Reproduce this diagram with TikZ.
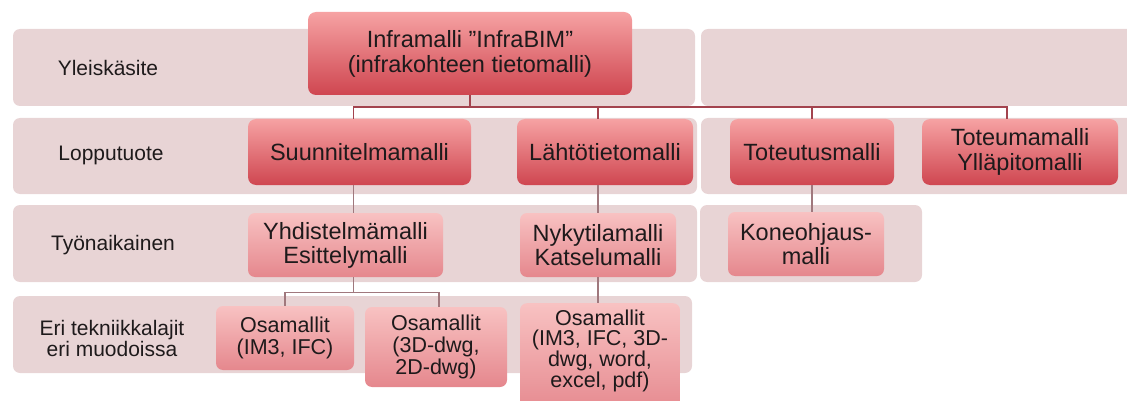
\documentclass[tikz,border=0pt]{standalone}
\usepackage{fontspec}
\setmainfont{Liberation Sans}
\usetikzlibrary{positioning}
\definecolor{bandpink}{HTML}{E8D4D5}
\definecolor{boxtop}{HTML}{F6A2A3}
\definecolor{boxbot}{HTML}{CF4650}
\definecolor{subtop}{HTML}{F8C2C2}
\definecolor{subbot}{HTML}{E5878D}
\definecolor{linkred}{HTML}{A3434E}
\definecolor{linkgray}{HTML}{A0787D}
\definecolor{txt}{HTML}{1E1A1B}
\tikzset{
  band/.style={fill=bandpink, rounded corners=7pt},
  lbl/.style={align=center, text=txt, font=\fontsize{21}{21}\selectfont},
  mainbox/.style={rounded corners=8pt, top color=boxtop, bottom color=boxbot, align=center, text=txt, inner sep=0pt, font=\fontsize{23.5}{25}\selectfont},
  subbox/.style={rounded corners=7pt, top color=subtop, bottom color=subbot, align=center, text=txt, inner sep=0pt, font=\fontsize{23.5}{24}\selectfont},
  partbox/.style={subbox, font=\fontsize{21.5}{22}\selectfont},
  link/.style={draw=linkred, line width=1.6pt},
  sublink/.style={draw=linkgray, line width=1.4pt},
}
\begin{document}
\begin{tikzpicture}[x=1pt, y=-1pt]
  \useasboundingbox (0,0) rectangle (1127,401);
  \clip (0,0) rectangle (1127,401);

  % level bands
  \fill[band] (13,29) rectangle (695,106);
  \fill[band] (701,29) rectangle (1140,106);
  \fill[band] (13,118) rectangle (697,194);
  \fill[band] (701,118) rectangle (1140,194);
  \fill[band] (13,205) rectangle (697,282);
  \fill[band] (700,205) rectangle (922,282);
  \fill[band] (13,296) rectangle (692,373);

  % level labels
  \node[lbl] (yleis) at (108,68) {Yleiskäsite};
  \node[lbl] (lopp) at (111,155) {Lopputuote};
  \node[lbl] (tyon) at (113,245) {Työnaikainen};
  \node[lbl] (eri) at (112,338) {Eri tekniikkalajit\\eri muodoissa};

  \node[mainbox, minimum width=324pt, minimum height=83pt] (infra) at (470,53.5) {Inframalli ”InfraBIM”\\(infrakohteen tietomalli)};

  \node[mainbox, minimum width=223pt, minimum height=66pt] (suun) at (359.5,152) {Suunnitelmamalli};
  \node[mainbox, minimum width=176pt, minimum height=66pt] (laht) at (605,152) {Lähtötietomalli};
  \node[mainbox, minimum width=164pt, minimum height=66pt] (tote) at (812,152) {Toteutusmalli};
  \node[mainbox, minimum width=196pt, minimum height=66pt] (totm) at (1020,152) {Toteumamalli\\Ylläpitomalli};

  \node[subbox, minimum width=195pt, minimum height=64pt] (yhd) at (345.5,245) {Yhdistelmämalli\\Esittelymalli};
  \node[subbox, minimum width=156pt, minimum height=64pt] (nyk) at (598,245) {Nykytilamalli\\Katselumalli};
  \node[subbox, minimum width=156pt, minimum height=64pt] (kone) at (806,244) {Koneohjaus-\\malli};

  \node[partbox, minimum width=138pt, minimum height=64pt] (osa1) at (285,338) {Osamallit\\(IM3, IFC)};
  \node[partbox, minimum width=142pt, minimum height=80pt] (osa2) at (436,347) {Osamallit\\(3D-dwg,\\2D-dwg)};
  \node[partbox, minimum width=160pt, anchor=north, inner ysep=7pt, text depth=22pt,
        font=\fontsize{21.5}{20}\selectfont] (osa3) at (600,303) {Osamallit\\(IM3, IFC, 3D-\\dwg, word,\\excel, pdf)};

  % connectors
  \draw[link] (infra.south) -- ++(0,12) coordinate (bus);
  \draw[link] (bus) -| ([xshift=-6pt]suun.north);
  \draw[link] (bus) -| ([xshift=-7pt]laht.north);
  \draw[link] (bus) -| (tote.north);
  \draw[link] (bus) -| ([xshift=-13pt]totm.north);

  \coordinate (s1) at ([xshift=-6pt]suun.south);
  \draw[sublink] (s1) -- (s1 |- yhd.north);
  \draw[sublink] (nyk.north |- laht.south) -- (nyk.north);
  \draw[sublink] (tote.south) -- (tote.south |- kone.north);

  \coordinate (y1) at ([xshift=8pt]yhd.south);
  \draw[sublink] (y1) -- ++(0,15) coordinate (bus2);
  \draw[sublink] (bus2) -| (osa1.north);
  \draw[sublink] (bus2) -| ([xshift=3pt]osa2.north);
  \draw[sublink] (nyk.south) -- (nyk.south |- osa3.north);
\end{tikzpicture}
\end{document}
